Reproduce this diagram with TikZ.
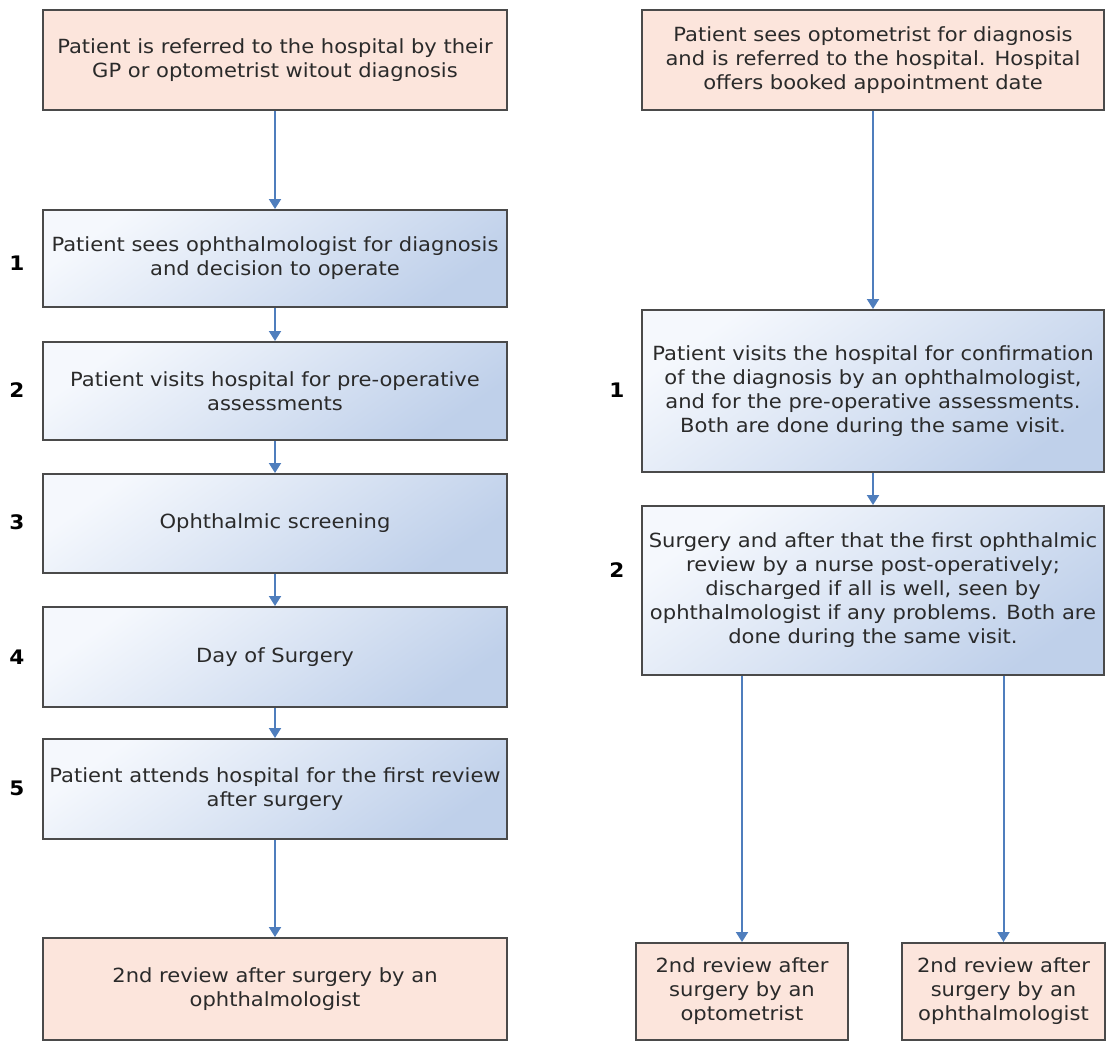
\documentclass[tikz,border=0pt]{standalone}
\usepackage{fontspec}
\setmainfont{DejaVu Sans}[FakeStretch=1.08]
\usetikzlibrary{arrows.meta}

\definecolor{peachfill}{HTML}{FCE5DC}
\definecolor{boxline}{HTML}{4A4A4A}
\definecolor{bluelight}{HTML}{F5F8FD}
\definecolor{bluemid}{HTML}{E8EEF8}
\definecolor{bluedark}{HTML}{BFD0EA}
\definecolor{arrowblue}{HTML}{4F7EBD}
\definecolor{textgrey}{HTML}{2A2A2A}

\tikzset{
  basebox/.style={draw=boxline, line width=2pt, align=center, inner sep=6pt,
    text=textgrey, font=\fontsize{19.5}{24}\selectfont},
  peachbox/.style={basebox, fill=peachfill},
  bluebox/.style={basebox, top color=bluelight, middle color=bluemid,
    bottom color=bluedark, shading angle=35},
  steplabel/.style={font=\fontsize{20}{24}\selectfont\bfseries, text=black},
  flow/.style={draw=arrowblue, line width=2pt,
    -{Triangle[width=12pt,length=10pt]}}
}

\begin{document}
\begin{tikzpicture}[x=1pt,y=-1pt]
\useasboundingbox (0,0) rectangle (1107,1042);

% ---- left pathway ----
\node[peachbox, minimum width=464pt, minimum height=100pt] (la0) at (275,60)
  {Patient is referred to the hospital by their\\GP or optometrist witout diagnosis};
\node[bluebox, minimum width=464pt, minimum height=97pt] (l1) at (275,258.5)
  {Patient sees ophthalmologist for diagnosis\\and decision to operate};
\node[bluebox, minimum width=464pt, minimum height=98pt] (l2) at (275,391)
  {Patient visits hospital for pre-operative\\assessments};
\node[bluebox, minimum width=464pt, minimum height=99pt] (l3) at (275,523.5)
  {Ophthalmic screening};
\node[bluebox, minimum width=464pt, minimum height=100pt] (l4) at (275,657)
  {Day of Surgery};
\node[bluebox, minimum width=464pt, minimum height=100pt] (l5) at (275,789)
  {Patient attends hospital for the first review\\after surgery};
\node[peachbox, minimum width=464pt, minimum height=102pt] (lb) at (275,989)
  {2nd review after surgery by an\\ophthalmologist};

\node[steplabel] (ln1) at (17,263) {1};
\node[steplabel] (ln2) at (17,390) {2};
\node[steplabel] (ln3) at (17,522) {3};
\node[steplabel] (ln4) at (17,657) {4};
\node[steplabel] (ln5) at (17,788) {5};

\draw[flow] (la0.south) -- (l1.north);
\draw[flow] (l1.south) -- (l2.north);
\draw[flow] (l2.south) -- (l3.north);
\draw[flow] (l3.south) -- (l4.north);
\draw[flow] (l4.south) -- (l5.north);
\draw[flow] (l5.south) -- (lb.north);

% ---- right pathway ----
\node[peachbox, minimum width=462pt, minimum height=100pt] (r0) at (873,60)
  {Patient sees optometrist for diagnosis\\and is referred to the hospital. Hospital\\offers booked appointment date};
\node[bluebox, minimum width=462pt, minimum height=162pt] (r1) at (873,391)
  {Patient visits the hospital for confirmation\\of the diagnosis by an ophthalmologist,\\and for the pre-operative assessments.\\Both are done during the same visit.};
\node[bluebox, minimum width=462pt, minimum height=169pt] (r2) at (873,590.5)
  {Surgery and after that the first ophthalmic\\review by a nurse post-operatively;\\discharged if all is well, seen by\\ophthalmologist if any problems. Both are\\done during the same visit.};
\node[peachbox, minimum width=212pt, minimum height=97pt] (rb1) at (742,991.5)
  {2nd review after\\surgery by an\\optometrist};
\node[peachbox, minimum width=203pt, minimum height=97pt] (rb2) at (1003.5,991.5)
  {2nd review after\\surgery by an\\ophthalmologist};

\node[steplabel] (rn1) at (617,390) {1};
\node[steplabel] (rn2) at (617,570) {2};

\draw[flow] (r0.south) -- (r1.north);
\draw[flow] (r1.south) -- (r2.north);
\draw[flow] (rb1.north |- r2.south) -- (rb1.north);
\draw[flow] (rb2.north |- r2.south) -- (rb2.north);
\end{tikzpicture}
\end{document}
